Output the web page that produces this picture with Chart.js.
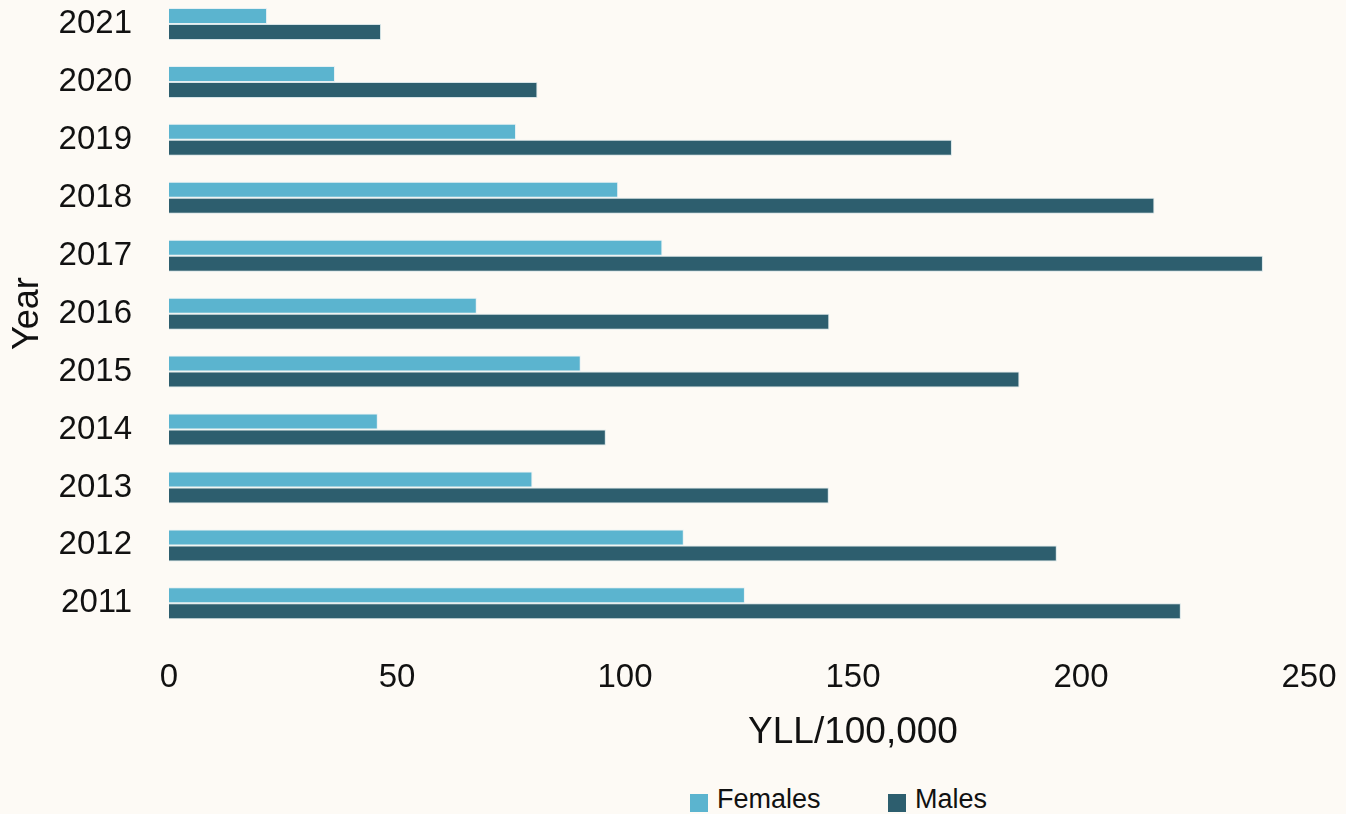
<!DOCTYPE html>
<html>
<head>
<meta charset="utf-8">
<title>YLL/100,000 by year and sex</title>
<script src="https://cdn.jsdelivr.net/npm/chart.js@4.4.1/dist/chart.umd.min.js"></script>
<style>
  html, body { margin: 0; padding: 0; background: #FDFAF5; overflow: hidden; width: 1346px; height: 814px; }
  #wrap { position: relative; width: 1346px; height: 814px; overflow: hidden; }
  #chart { position: absolute; left: 0; top: -5px; }
  #legend { position: absolute; left: 690px; top: 784px; display: flex;
            font-family: "Liberation Sans", Arial, sans-serif; font-size: 27px; line-height: 30px; color: #111; }
  #legend .item { display: flex; align-items: flex-start; }
  #legend .item:first-child { width: 198px; }
  #legend .swatch { width: 18px; height: 18px; margin-top: 10px; margin-right: 9px; }
</style>
</head>
<body>
<div id="wrap">
  <canvas id="chart" width="1706" height="762"></canvas>
  <div id="legend"></div>
</div>
<script>
// Years, top row first
const years = ['2021', '2020', '2019', '2018', '2017', '2016', '2015', '2014', '2013', '2012', '2011'];
// Years of life lost per 100,000
const femalesYLL = [21.5, 36.4, 76.1, 98.5, 108.2, 67.5, 90.3, 45.8, 79.7, 112.9, 126.3];
const malesYLL   = [46.5, 80.8, 171.7, 216.1, 239.9, 144.8, 186.5, 95.8, 144.7, 194.7, 221.9];
// Value axis range
const xMin = 0;
const xMax = 250;
const xStep = 50;

const FEMALE_COLOR = '#5BB4CF';
const MALE_COLOR = '#2D5E6E';
const TEXT_COLOR = '#111111';

const TICK_SIZE = 33;
const X_TICK_PAD = 26;

Chart.defaults.font.family = '"Liberation Sans", Arial, sans-serif';
Chart.defaults.color = TEXT_COLOR;

const chart = new Chart(document.getElementById('chart'), {
  type: 'bar',
  data: {
    labels: years,
    datasets: [
      { label: 'Females', data: femalesYLL, backgroundColor: FEMALE_COLOR,
        borderColor: 'rgba(225,238,242,0.8)', borderWidth: 1,
        categoryPercentage: 0.5523, barPercentage: 1 },
      { label: 'Males', data: malesYLL, backgroundColor: MALE_COLOR,
        borderColor: 'rgba(205,222,228,0.8)', borderWidth: 1,
        categoryPercentage: 0.5523, barPercentage: 1 }
    ]
  },
  options: {
    indexAxis: 'y',
    responsive: false,
    animation: false,
    devicePixelRatio: 1,
    layout: { padding: { left: 0, right: 0, top: 0, bottom: 2.2 } },
    scales: {
      x: {
        min: xMin, max: xMax,
        grid: { display: false, drawTicks: false },
        border: { display: false },
        ticks: { stepSize: xStep, padding: X_TICK_PAD, font: { size: TICK_SIZE }, color: TEXT_COLOR },
        afterFit(scale) {
          // one label row plus the gap above it
          scale.height = X_TICK_PAD + TICK_SIZE * 1.2;
          scale.paddingLeft = 0; scale.paddingRight = 0;
        }
      },
      y: {
        grid: { display: false, drawTicks: false },
        border: { display: false },
        ticks: { padding: 37, font: { size: TICK_SIZE }, color: TEXT_COLOR, autoSkip: false },
        title: { display: true, text: 'Year', font: { size: 36 }, color: TEXT_COLOR,
                 padding: { top: 6, bottom: 0 } },
        afterFit(scale) { scale.width = 169; scale.paddingTop = 0; scale.paddingBottom = 0; }
      },
      // empty right-hand gutter that keeps the plot narrower than the canvas
      gutter: {
        type: 'category', position: 'right', display: true,
        grid: { display: false, drawTicks: false },
        border: { display: false },
        ticks: { display: false },
        afterFit(scale) { scale.width = 397; scale.paddingTop = 0; scale.paddingBottom = 0; }
      }
    },
    plugins: {
      legend: { display: false },
      tooltip: { enabled: false },
      title: {
        display: true, position: 'bottom', text: 'YLL/100,000',
        color: TEXT_COLOR, font: { size: 37, weight: 'normal' },
        padding: { top: 12.5, bottom: 0 }
      }
    }
  }
});

// Legend below the plot, built from the chart's own datasets
const legendEl = document.getElementById('legend');
chart.data.datasets.forEach(ds => {
  const item = document.createElement('div');
  item.className = 'item';
  const sw = document.createElement('span');
  sw.className = 'swatch';
  sw.style.background = ds.backgroundColor;
  const label = document.createElement('span');
  label.textContent = ds.label;
  item.appendChild(sw);
  item.appendChild(label);
  legendEl.appendChild(item);
});
</script>
</body>
</html>
